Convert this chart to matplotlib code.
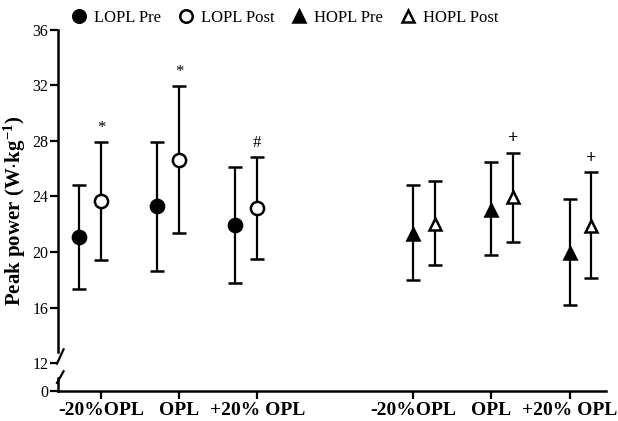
import matplotlib
matplotlib.use("Agg")
import matplotlib.pyplot as plt
import matplotlib.transforms as mtransforms
from matplotlib.lines import Line2D
import numpy as np

plt.rcParams["font.family"] = ["Liberation Serif", "DejaVu Serif"]
plt.rcParams["mathtext.default"] = "regular"

categories = ["-20%OPL", "OPL", "+20% OPL"]

lopl_pre = [21.1, 23.3, 21.95]
lopl_pre_lo = [17.35, 18.65, 17.8]
lopl_pre_hi = [24.8, 27.9, 26.1]
lopl_post = [23.65, 26.65, 23.2]
lopl_post_lo = [19.4, 21.35, 19.5]
lopl_post_hi = [27.9, 31.95, 26.85]
lopl_marks = ["*", "*", "#"]

hopl_pre = [21.3, 23.05, 19.95]
hopl_pre_lo = [18.0, 19.8, 16.2]
hopl_pre_hi = [24.8, 26.45, 23.85]
hopl_post = [22.05, 23.95, 21.9]
hopl_post_lo = [19.05, 20.75, 18.15]
hopl_post_hi = [25.15, 27.15, 25.75]
hopl_marks = ["", "+", "+"]

lopl_x = np.array([1.0, 2.0, 3.0])
hopl_x = np.array([5.0, 6.0, 7.0])
offset = 0.28


def fwd(y):
    y = np.asarray(y, dtype=float)
    return np.where(y >= 12, y, 10 + y * 2.0 / 12.0)


def inv(y):
    y = np.asarray(y, dtype=float)
    return np.where(y >= 12, y, (y - 10) * 12.0 / 2.0)


fig = plt.figure(figsize=(6.18, 4.21), dpi=100)
ax = fig.add_axes([0.094, 0.0713, 0.887, 0.858])
ax.set_yscale("function", functions=(fwd, inv))


def series(x, y, lo, hi, marker, face):
    y = np.array(y)
    err = [y - np.array(lo), np.array(hi) - y]
    ax.errorbar(x, y, yerr=err, fmt=marker, color="black", mfc=face, mec="black",
                ms=9.5 if marker == "o" else 9, mew=1.8, elinewidth=1.6,
                capsize=5, capthick=1.6, zorder=3)


series(lopl_x - offset, lopl_pre, lopl_pre_lo, lopl_pre_hi, "o", "black")
series(lopl_x, lopl_post, lopl_post_lo, lopl_post_hi, "o", "white")
series(hopl_x, hopl_pre, hopl_pre_lo, hopl_pre_hi, "^", "black")
series(hopl_x + offset, hopl_post, hopl_post_lo, hopl_post_hi, "^", "white")

for x, top, m in zip(lopl_x, lopl_post_hi, lopl_marks):
    ax.text(x, top + 0.45, m, ha="center", va="bottom", fontsize=12)
for x, top, m in zip(hopl_x + offset, hopl_post_hi, hopl_marks):
    if m:
        ax.text(x, top + 0.4, m, ha="center", va="bottom", fontsize=13, fontweight="bold")

ax.set_ylim(0, 36)
ax.set_xlim(0.45, 7.47)
ax.set_yticks([0, 12, 16, 20, 24, 28, 32, 36])
ax.set_yticklabels(["0", "12", "16", "20", "24", "28", "32", "36"])
ax.yaxis.set_minor_locator(matplotlib.ticker.NullLocator())
ax.set_xticks(np.concatenate([lopl_x, hopl_x]))
ax.set_xticklabels(categories + categories, fontweight="bold", fontsize=14)
ax.tick_params(axis="y", labelsize=11.5, width=1.6, length=6, pad=1)
ax.tick_params(axis="x", width=1.6, length=6, pad=2)

for s in ["top", "right"]:
    ax.spines[s].set_visible(False)
ax.spines["bottom"].set_linewidth(1.8)
ax.spines["left"].set_linewidth(1.8)
ax.spines["left"].set_bounds(12.8, 36)

# lower stub of the broken axis and the break marks
trans = mtransforms.blended_transform_factory(ax.transAxes, ax.transData)
ax.plot([0, 0], [0, 5.5], color="black", lw=1.8, transform=trans, clip_on=False)
ax.plot([-0.002, 0.010], [11.8, 13.0], color="black", lw=1.6, transform=trans, clip_on=False)
ax.plot([-0.002, 0.010], [3.5, 8.5], color="black", lw=1.6, transform=trans, clip_on=False)

ax.set_ylabel("Peak power (W$\\cdot$kg$^{-1}$)", fontsize=15, fontweight="bold")
ax.yaxis.set_label_coords(-0.055, 0.5)

handles = [
    Line2D([], [], ls="none", marker="o", ms=9, mfc="black", mec="black", mew=1.8),
    Line2D([], [], ls="none", marker="o", ms=9, mfc="white", mec="black", mew=1.8),
    Line2D([], [], ls="none", marker="^", ms=9, mfc="black", mec="black", mew=1.8),
    Line2D([], [], ls="none", marker="^", ms=9, mfc="white", mec="black", mew=1.8),
]
ax.legend(handles, ["LOPL Pre", "LOPL Post", "HOPL Pre", "HOPL Post"],
          loc="center left", bbox_to_anchor=(0.01, 1.033), ncol=4, frameon=False,
          fontsize=12, handletextpad=0.4, columnspacing=1.0, borderaxespad=0.0,
          handlelength=1.0)

fig.savefig("out.png", dpi=100)
